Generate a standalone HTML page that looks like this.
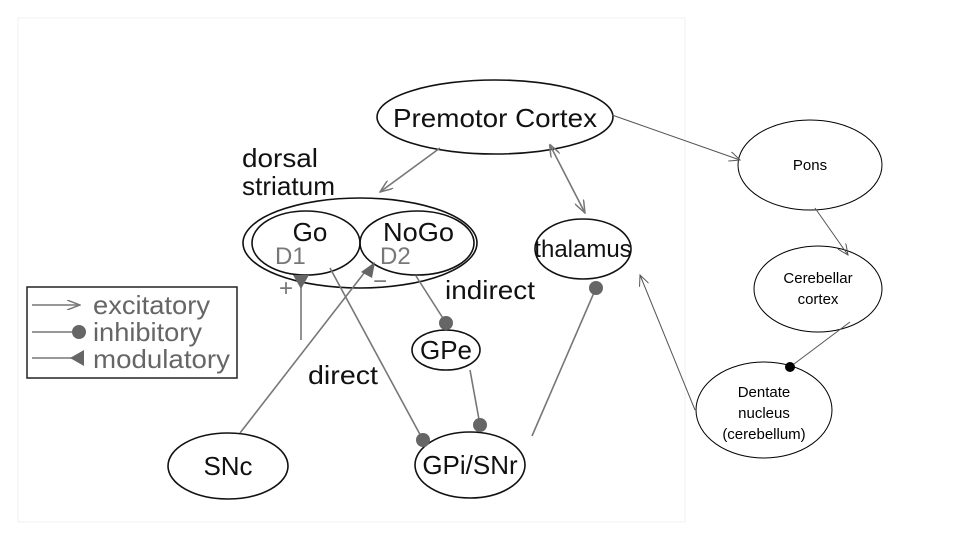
<!DOCTYPE html>
<html><head><style>
body{margin:0;background:#fff;}
svg{display:block;font-family:"Liberation Sans",sans-serif;}
</style></head><body>
<svg width="960" height="540" viewBox="0 0 960 540">
<defs>
<marker id="ar" markerWidth="14" markerHeight="10" refX="13" refY="5" orient="auto" markerUnits="userSpaceOnUse"><path d="M0,0 L13,5 L0,10" fill="none" stroke="#777" stroke-width="1.5"/></marker>
<marker id="ars" markerWidth="14" markerHeight="10" refX="1" refY="5" orient="auto" markerUnits="userSpaceOnUse"><path d="M13,0 L0,5 L13,10" fill="none" stroke="#777" stroke-width="1.5"/></marker>
<marker id="ak" markerWidth="12" markerHeight="10" refX="11" refY="5" orient="auto" markerUnits="userSpaceOnUse"><path d="M0,0 L11,5 L0,10" fill="none" stroke="#555" stroke-width="1"/></marker>
</defs>
<rect x="18" y="18" width="667" height="504" fill="#fff" stroke="#f0f0f0"/>
<g fill="none" stroke="#111" stroke-width="1.6">
<ellipse cx="495" cy="117" rx="118" ry="37"/>
<ellipse cx="360" cy="243" rx="117" ry="45"/>
<ellipse cx="306" cy="243" rx="54" ry="32"/>
<ellipse cx="417" cy="243" rx="57" ry="32"/>
<ellipse cx="583" cy="249" rx="48" ry="30"/>
<ellipse cx="446" cy="350" rx="34" ry="20"/>
<ellipse cx="470" cy="465" rx="55" ry="33"/>
<ellipse cx="228" cy="466" rx="60" ry="33"/>
</g>
<g fill="none" stroke="#000" stroke-width="1">
<ellipse cx="810" cy="165" rx="72" ry="45"/>
<ellipse cx="818" cy="289" rx="64" ry="43"/>
<ellipse cx="764" cy="410" rx="68" ry="48"/>
</g>
<g stroke="#777" stroke-width="1.6" fill="none">
<line x1="440" y1="148" x2="380" y2="192" marker-end="url(#ar)"/>
<line x1="550" y1="145" x2="585" y2="213" marker-start="url(#ars)" marker-end="url(#ar)"/>
<line x1="596" y1="288" x2="532" y2="436"/>
<line x1="416" y1="276" x2="446" y2="323"/>
<line x1="470" y1="370" x2="480" y2="425"/>
<line x1="330" y1="268" x2="423" y2="440"/>
<line x1="301" y1="280" x2="301" y2="340"/>
<line x1="240" y1="433" x2="368" y2="268"/>
<line x1="32" y1="305" x2="80" y2="305" marker-end="url(#ar)"/>
<line x1="32" y1="332" x2="72" y2="332"/>
<line x1="32" y1="358" x2="72" y2="358"/>
</g>
<g stroke="#555" stroke-width="1" fill="none">
<line x1="612" y1="115" x2="740" y2="160" marker-end="url(#ak)"/>
<line x1="815" y1="208" x2="848" y2="255" marker-end="url(#ak)"/>
<line x1="850" y1="322" x2="790" y2="367"/>
<line x1="695" y1="410" x2="640" y2="275" marker-end="url(#ak)"/>
</g>
<g fill="#666">
<circle cx="596" cy="288" r="7"/>
<circle cx="446" cy="323" r="7"/>
<circle cx="480" cy="425" r="7"/>
<circle cx="423" cy="440" r="7"/>
<circle cx="79" cy="332" r="7"/>
<path d="M293,275 L309,275 L301,289 Z"/>
<path d="M375,262 L372,278 L361,272 Z"/>
<path d="M70,358 L84,350 L84,366 Z"/>
</g>
<circle cx="790" cy="367" r="5" fill="#000"/>
<rect x="27" y="287" width="210" height="91" fill="none" stroke="#222" stroke-width="1.5"/>
<g font-size="26" fill="#666">
<text x="93" y="314" textLength="117" lengthAdjust="spacingAndGlyphs">excitatory</text>
<text x="93" y="341" textLength="109" lengthAdjust="spacingAndGlyphs">inhibitory</text>
<text x="93" y="368" textLength="137" lengthAdjust="spacingAndGlyphs">modulatory</text>
</g>
<g font-size="26" fill="#111">
<text x="393" y="127" textLength="204" lengthAdjust="spacingAndGlyphs">Premotor Cortex</text>
<text x="242" y="167" textLength="76" lengthAdjust="spacingAndGlyphs">dorsal</text>
<text x="242" y="195" textLength="93" lengthAdjust="spacingAndGlyphs">striatum</text>
<text x="310" y="241" text-anchor="middle">Go</text>
<text x="383" y="241" textLength="71" lengthAdjust="spacingAndGlyphs">NoGo</text>
<text x="583" y="257" text-anchor="middle" font-size="24">thalamus</text>
<text x="445" y="299" textLength="90" lengthAdjust="spacingAndGlyphs">indirect</text>
<text x="308" y="384" textLength="70" lengthAdjust="spacingAndGlyphs">direct</text>
<text x="446" y="359" text-anchor="middle">GPe</text>
<text x="470" y="474" text-anchor="middle">GPi/SNr</text>
<text x="228" y="475" text-anchor="middle">SNc</text>
</g>
<g font-size="24" fill="#777">
<text x="275" y="264">D1</text>
<text x="380" y="264">D2</text>
<text x="279" y="296">+</text>
<text x="373" y="289">−</text>
</g>
<g font-size="15" fill="#000" text-anchor="middle">
<text x="810" y="170">Pons</text>
<text x="818" y="283">Cerebellar</text>
<text x="818" y="304">cortex</text>
<text x="764" y="397">Dentate</text>
<text x="764" y="418">nucleus</text>
<text x="764" y="439">(cerebellum)</text>
</g>
</svg>
</body></html>
